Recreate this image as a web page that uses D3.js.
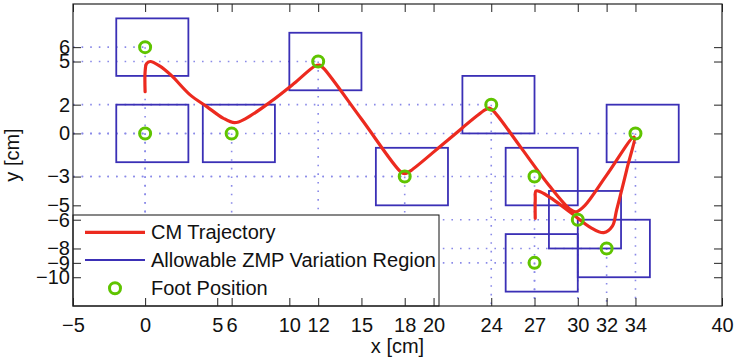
<!DOCTYPE html>
<html>
<head>
<meta charset="utf-8">
<script src="https://cdn.jsdelivr.net/npm/d3@7"></script>
<style>
  body { margin: 0; background: #fff; }
  svg { display: block; font-family: "Liberation Sans", Arial, sans-serif; }
</style>
</head>
<body>
<svg id="chart" width="734" height="361"></svg>
<script>
// foot positions
const footX = [0, 0, 6, 12, 18, 24, 27, 27, 30, 32, 34];
const footY = [6, 0, 0, 5, -3, 2, -3, -9, -6, -8, 0];

// allowable ZMP regions (one box per foot)
const boxX0 = [-2, -2, 4, 10, 16, 22, 25, 25, 28, 30, 32];
const boxX1 = [3, 3, 9, 15, 21, 27, 30, 30, 33, 35, 37];
const boxY0 = [4, -2, -2, 3, -5, 0, -5, -11, -8, -10, -2];
const boxY1 = [8, 2, 2, 7, -1, 4, -1, -7, -4, -6, 2];

// CM trajectory
const cmX = [0, 0, 0.1, 0.35, 1.0, 1.8, 3.1, 4.3, 5.4, 6.2, 7.0, 8.7, 10.3, 11.8, 12.1, 12.4, 15, 17.7, 18.0, 18.4, 21, 23.6, 23.9, 24.3, 26.0, 28, 29.5, 29.9, 30.5, 32.0, 33.9, 33.4, 32.7, 32.4, 31.8, 30.9, 29.5, 28.3, 27.4, 27.1, 27.05, 27.05];
const cmY = [2.9, 4.3, 4.85, 5.0, 4.7, 4.05, 2.7, 1.85, 1.07, 0.75, 1.05, 2.2, 3.45, 4.7, 4.75, 4.5, 1.0, -2.65, -2.8, -2.6, -0.45, 1.65, 1.75, 1.4, -0.9, -3.6, -5.3, -5.45, -5.0, -2.9, -0.25, -2.5, -5.3, -6.45, -6.9, -6.55, -5.5, -4.6, -4.05, -4.0, -4.6, -5.9];

const xTicks = [-5, 0, 5, 6, 10, 12, 15, 18, 20, 24, 27, 30, 32, 34, 40];
const yTicks = [-10, -9, -8, -6, -5, -3, 0, 2, 5, 6];

const legendLabels = ["CM Trajectory", "Allowable ZMP Variation Region", "Foot Position"];

const width = 734, height = 361;
const margin = { top: 4, right: 12, bottom: 55, left: 73 };
const w = width - margin.left - margin.right;
const h = height - margin.top - margin.bottom;

const red = "#ec2a1f", blue = "#3b30b6", green = "#5fc400", gridCol = "#8a8ae8";

const svg = d3.select("#chart");
const g = svg.append("g").attr("transform", `translate(${margin.left},${margin.top})`);

const x = d3.scaleLinear().domain([-5, 40]).range([0, w]);
const y = d3.scaleLinear().domain([-12, 9]).range([h, 0]);

const feet = footX.map((fx, i) => ({ x: fx, y: footY[i] }));
const boxes = boxX0.map((bx, i) => ({ x0: bx, x1: boxX1[i], y0: boxY0[i], y1: boxY1[i] }));
const cm = cmX.map((cx, i) => ({ x: cx, y: cmY[i] }));

// dotted drop lines from each foot to the axes
const drops = g.append("g")
  .attr("stroke", gridCol)
  .attr("stroke-width", 1.6)
  .attr("stroke-dasharray", "1.6,7")
  .attr("fill", "none");
drops.selectAll(".hl").data(feet).enter().append("line")
  .attr("x1", 0).attr("x2", d => x(d.x))
  .attr("y1", d => y(d.y)).attr("y2", d => y(d.y));
drops.selectAll(".vl").data(feet).enter().append("line")
  .attr("x1", d => x(d.x)).attr("x2", d => x(d.x))
  .attr("y1", d => y(d.y)).attr("y2", h);

// boxes
g.append("g").selectAll("rect").data(boxes).enter().append("rect")
  .attr("x", d => x(d.x0))
  .attr("y", d => y(d.y1))
  .attr("width", d => x(d.x1) - x(d.x0))
  .attr("height", d => y(d.y0) - y(d.y1))
  .attr("fill", "none")
  .attr("stroke", blue)
  .attr("stroke-width", 1.8);

// trajectory
const line = d3.line()
  .x(d => x(d.x))
  .y(d => y(d.y))
  .curve(d3.curveCatmullRom.alpha(0.5));

g.append("path")
  .datum(cm)
  .attr("d", line)
  .attr("fill", "none")
  .attr("stroke", red)
  .attr("stroke-width", 3.2)
  .attr("stroke-linejoin", "round")
  .attr("stroke-linecap", "round");

// foot markers
g.append("g").selectAll("circle").data(feet).enter().append("circle")
  .attr("cx", d => x(d.x))
  .attr("cy", d => y(d.y))
  .attr("r", 5.5)
  .attr("fill", "none")
  .attr("stroke", green)
  .attr("stroke-width", 3);

// legend
const leg = g.append("g");
leg.append("rect")
  .attr("x", 0).attr("y", 211)
  .attr("width", 366).attr("height", h - 211)
  .attr("fill", "#fff")
  .attr("stroke", "#111")
  .attr("stroke-width", 1);
const rowY = [228.3, 256, 284.3];
leg.append("line")
  .attr("x1", 12).attr("x2", 72).attr("y1", rowY[0]).attr("y2", rowY[0])
  .attr("stroke", red).attr("stroke-width", 3.2);
leg.append("line")
  .attr("x1", 12).attr("x2", 72).attr("y1", rowY[1]).attr("y2", rowY[1])
  .attr("stroke", blue).attr("stroke-width", 1.8);
leg.append("circle")
  .attr("cx", 42).attr("cy", rowY[2]).attr("r", 5.5)
  .attr("fill", "none").attr("stroke", green).attr("stroke-width", 3);
leg.selectAll("text").data(legendLabels).enter().append("text")
  .attr("x", 78)
  .attr("y", (d, i) => rowY[i])
  .attr("dy", "0.35em")
  .attr("font-size", 20)
  .attr("fill", "#111")
  .text(d => d);

// axes, ticks pointing inward on all four sides
const tickLen = 8;
const axisStyle = sel => {
  sel.attr("font-family", null).attr("font-size", 20);
  sel.select(".domain").remove();
  sel.selectAll(".tick line").attr("stroke", "#222");
  sel.selectAll(".tick text").attr("fill", "#111");
};

g.append("g")
  .attr("transform", `translate(0,${h})`)
  .call(d3.axisBottom(x).tickValues(xTicks).tickSizeInner(-tickLen).tickSizeOuter(0).tickPadding(12))
  .call(axisStyle);
g.append("g")
  .call(d3.axisTop(x).tickValues(xTicks).tickSizeInner(-tickLen).tickSizeOuter(0).tickFormat(""))
  .call(axisStyle);
g.append("g")
  .call(d3.axisLeft(y).tickValues(yTicks).tickSizeInner(-tickLen).tickSizeOuter(0).tickPadding(3))
  .call(axisStyle);
g.append("g")
  .attr("transform", `translate(${w},0)`)
  .call(d3.axisRight(y).tickValues(yTicks).tickSizeInner(-tickLen).tickSizeOuter(0).tickFormat(""))
  .call(axisStyle);

// frame
g.append("rect")
  .attr("width", w).attr("height", h)
  .attr("fill", "none")
  .attr("stroke", "#222")
  .attr("stroke-width", 1.2);

// axis labels
svg.append("text")
  .attr("x", margin.left + w / 2)
  .attr("y", 353)
  .attr("text-anchor", "middle")
  .attr("font-size", 20)
  .attr("fill", "#111")
  .text("x [cm]");
svg.append("text")
  .attr("transform", `translate(19,${margin.top + h / 2}) rotate(-90)`)
  .attr("text-anchor", "middle")
  .attr("font-size", 20)
  .attr("fill", "#111")
  .text("y [cm]");
</script>
</body>
</html>
